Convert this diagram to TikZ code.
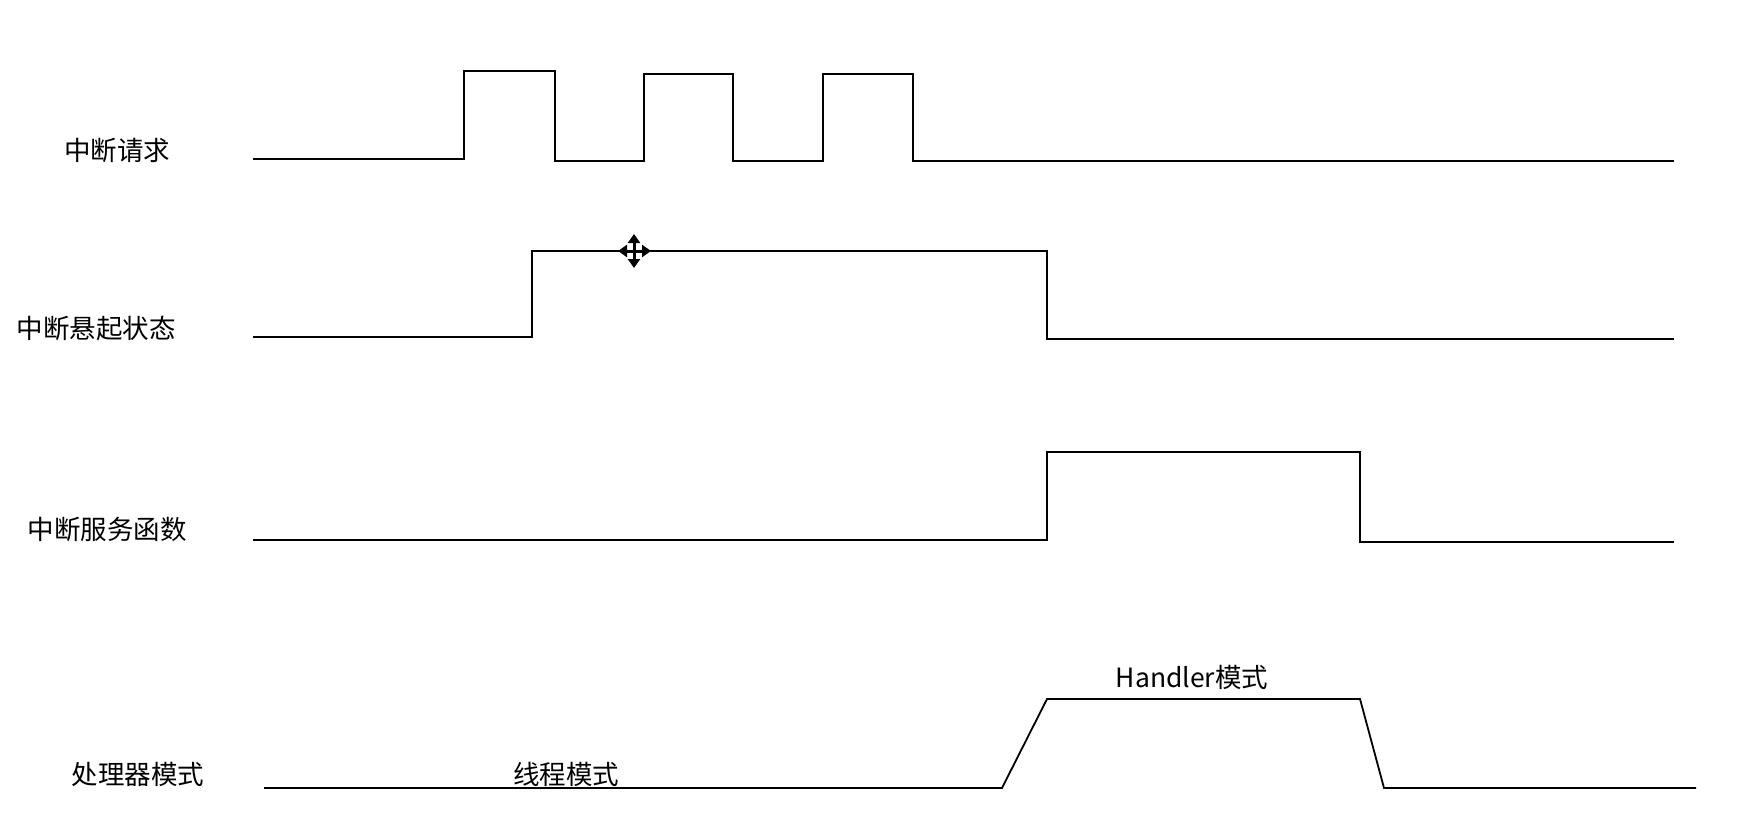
\documentclass[tikz,border=0pt]{standalone}
\usepackage{fontspec}
\setmainfont{Noto Sans CJK SC}
\usetikzlibrary{arrows.meta}
\begin{document}
\begin{tikzpicture}[x=1pt,y=-1pt,
  wave/.style={line width=1.8pt,line join=miter,black},
  lbl/.style={font=\fontsize{26.5}{30}\selectfont,inner sep=0pt,anchor=center,text=black},
  curs/.style={line width=3pt,{Triangle[length=9pt,width=12pt]}-{Triangle[length=9pt,width=12pt]}}]
\useasboundingbox[fill=white] (0,0) rectangle (1750,829);
% labels
\node[lbl] (l1) at (117,150) {中断请求};
\node[lbl] (l2) at (96,328) {中断悬起状态};
\node[lbl] (l3) at (107,529) {中断服务函数};
\node[lbl] (l4) at (138,774) {处理器模式};
\node[lbl] (th) at (566,774) {线程模式};
\node[lbl] (hd) at (1192,677) {Handler模式};
% row 1: interrupt request
\draw[wave] (253,159) -- (464,159) -- (464,71) -- (555,71) -- (555,161) -- (644,161) -- (644,74) -- (733,74) -- (733,161) -- (823,161) -- (823,74) -- (913,74) -- (913,161) -- (1674,161);
% row 2: pending state
\draw[wave] (253,337) -- (532,337) -- (532,251) -- (1047,251) -- (1047,339) -- (1674,339);
% row 3: ISR
\draw[wave] (253,540) -- (1047,540) -- (1047,452) -- (1360,452) -- (1360,542) -- (1674,542);
% row 4: processor mode
\draw[wave] (264,788) -- (1002,788) -- (1047,699) -- (1360,699) -- (1384,788) -- (1696,788);
% move cursor
\draw[curs] (634,234) -- (634,268);
\draw[curs] (618,251) -- (651,251);
\end{tikzpicture}
\end{document}
